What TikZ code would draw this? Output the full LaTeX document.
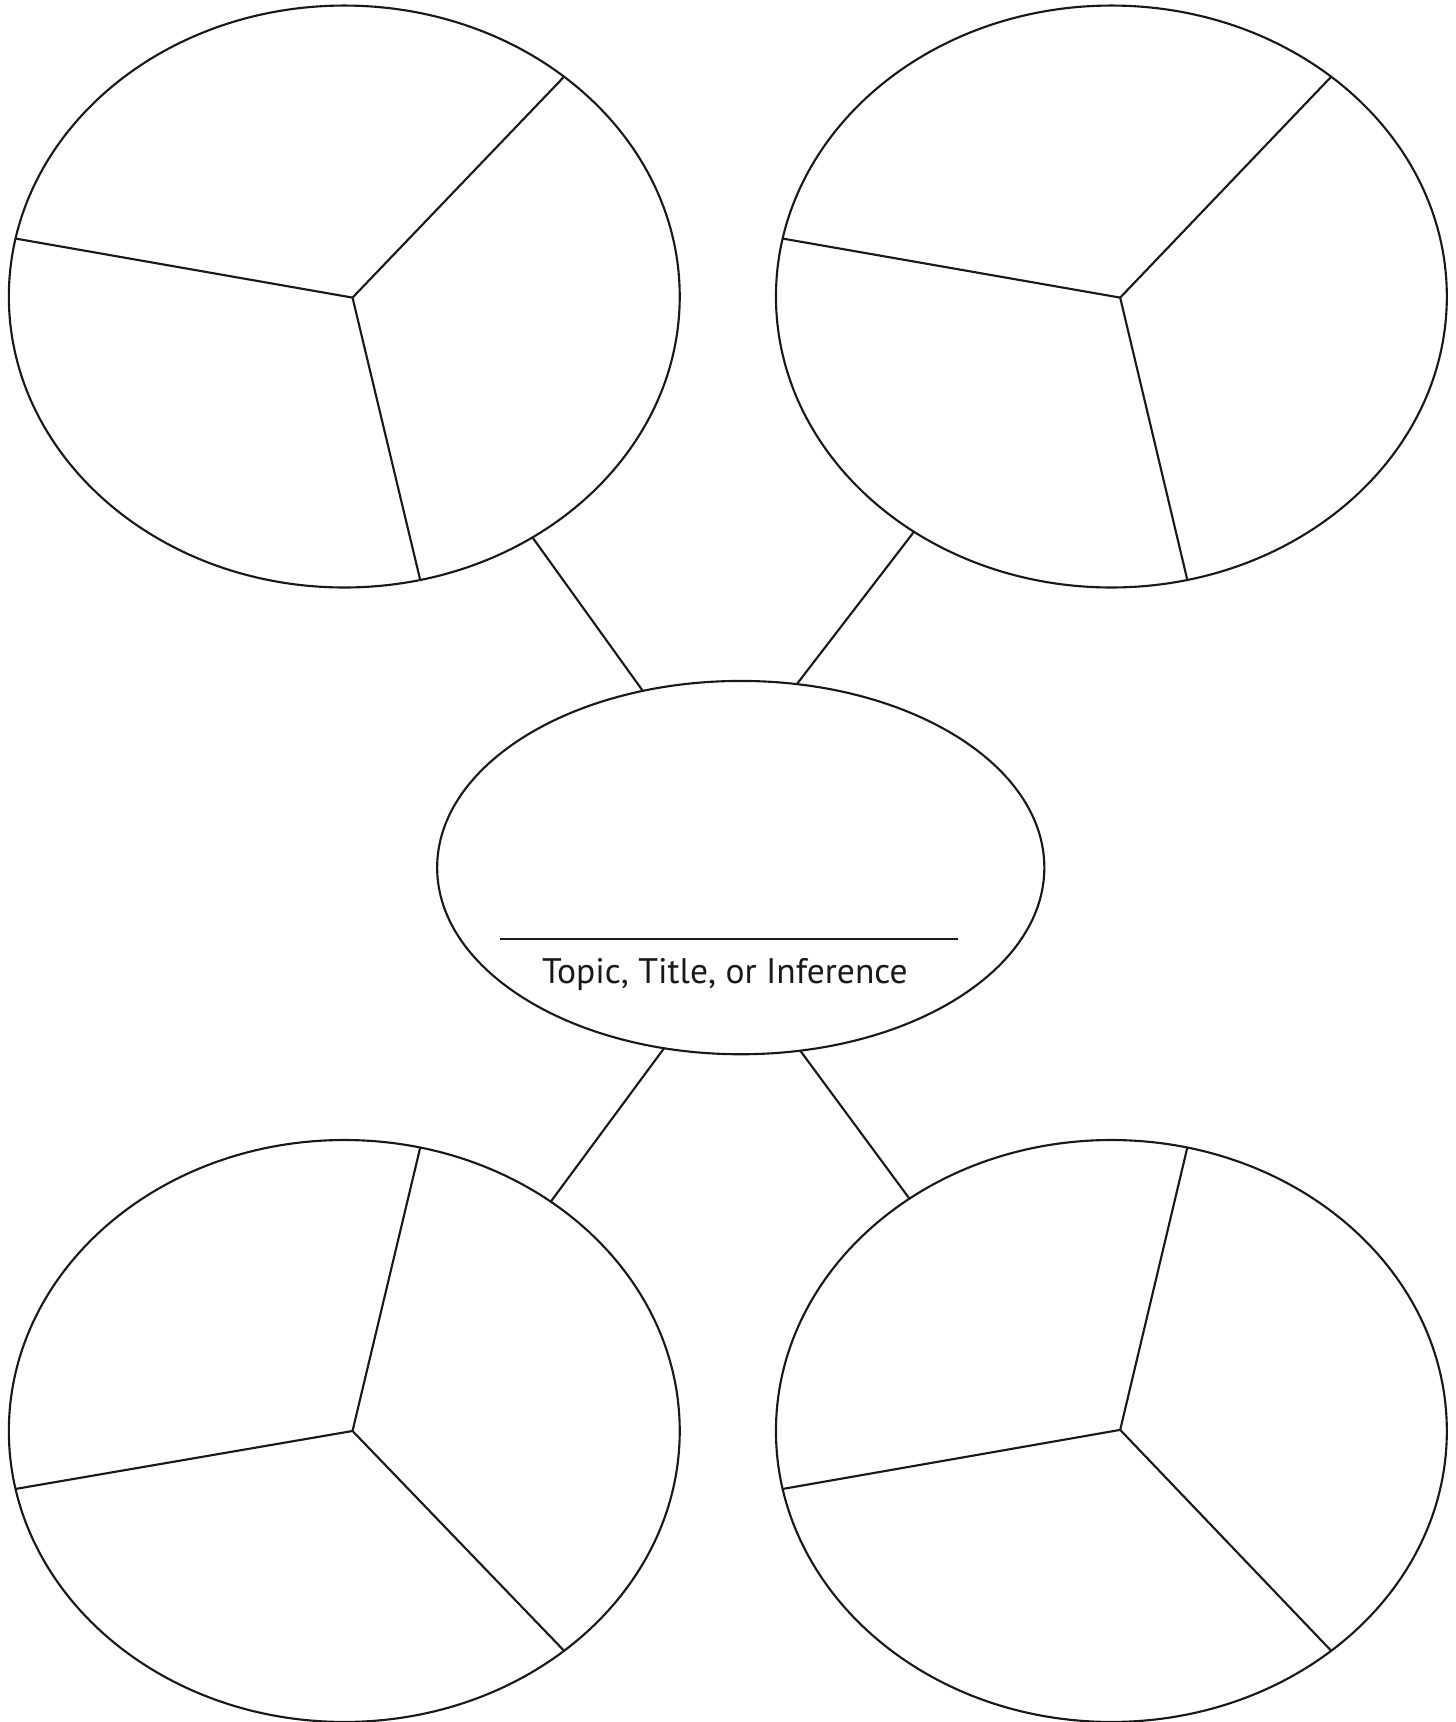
\documentclass[tikz,border=0pt]{standalone}
\usepackage{fontspec}
\setmainfont{PT Sans}
\usepackage{tikz}
\usetikzlibrary{shapes.geometric,calc}

\begin{document}
\begin{tikzpicture}[
  x=0.02cm, y=-0.02cm, line width=1.1pt, draw=black!90,
  blob/.style={draw, ellipse, minimum width=12.22cm, minimum height=10.6cm,
               inner sep=0pt, outer sep=0pt},
  hub/.style={draw, ellipse, minimum width=11.06cm, minimum height=6.8cm,
              inner sep=0pt, outer sep=0pt},
  toptext/.style={font=\fontsize{18.4}{21}\selectfont, text=black!90, anchor=base, inner sep=0pt},
]
  \useasboundingbox (0,0) rectangle (1325,1568);

  % centre
  \node[hub] (mid) at (674.5,790) {};
  \coordinate (ruleL) at (455.4,855.2);
  \coordinate (ruleR) at (872.7,855.2);
  \draw (ruleL) -- (ruleR);
  \node[toptext] (topic) at (660,895.5) {Topic, Title, or Inference};

  % four detail ellipses
  \node[blob] (tl) at (313.5,270) {};
  \node[blob] (tr) at (1012,270) {};
  \node[blob] (bl) at (313.5,1303) {};
  \node[blob] (br) at (1012,1303) {};

  \coordinate (tlc) at (321,271);
  \coordinate (trc) at (1020,271);
  \coordinate (blc) at (321,1303);
  \coordinate (brc) at (1020,1302);

  \draw (tlc) -- (tl.45.4);
  \draw (tlc) -- (tl.170.1);
  \draw (tlc) -- (tl.-75.1);

  \draw (trc) -- (tr.45.3);
  \draw (trc) -- (tr.170.1);
  \draw (trc) -- (tr.-75.0);

  \draw (blc) -- (bl.75.1);
  \draw (blc) -- (bl.-170.0);
  \draw (blc) -- (bl.-45.4);

  \draw (brc) -- (br.75.0);
  \draw (brc) -- (br.-170.1);
  \draw (brc) -- (br.-45.3);

  % links to the centre
  \draw (tl.-52.7) -- (mid.119.4);
  \draw (tr.-130.7) -- (mid.73.2);
  \draw (bl.48.0) -- (mid.-113.0);
  \draw (br.131.0) -- (mid.-72.5);
\end{tikzpicture}
\end{document}
